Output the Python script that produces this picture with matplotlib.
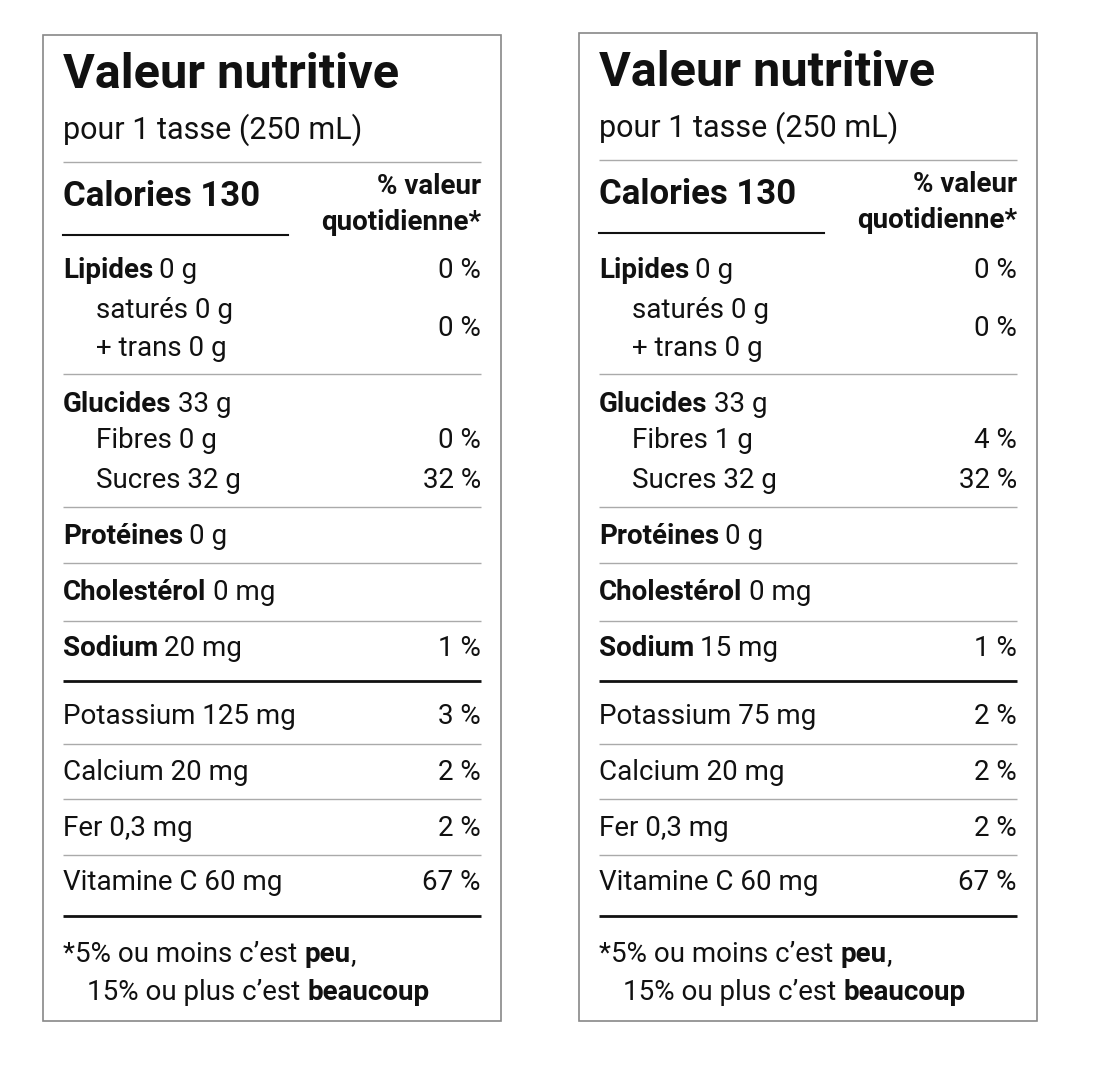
import matplotlib
matplotlib.use("Agg")
import matplotlib.pyplot as plt
from matplotlib import font_manager as fm

names = [f.name for f in fm.fontManager.ttflist]
FAM = "Liberation Sans Narrow" if "Liberation Sans Narrow" in names else "Roboto"

title = "Valeur nutritive"
serving = "pour 1 tasse (250 mL)"
calories = [130, 130]
lipides = ["0 g", "0 g"]; lipides_dv = ["0 %", "0 %"]
satures = ["0 g", "0 g"]; trans = ["0 g", "0 g"]; sat_dv = ["0 %", "0 %"]
glucides = ["33 g", "33 g"]
fibres = ["0 g", "1 g"]; fibres_dv = ["0 %", "4 %"]
sucres = ["32 g", "32 g"]; sucres_dv = ["32 %", "32 %"]
proteines = ["0 g", "0 g"]
cholesterol = ["0 mg", "0 mg"]
sodium = ["20 mg", "15 mg"]; sodium_dv = ["1 %", "1 %"]
minerals = ["Potassium", "Calcium", "Fer", "Vitamine C"]
mineral_amt = [["125 mg", "20 mg", "0,3 mg", "60 mg"], ["75 mg", "20 mg", "0,3 mg", "60 mg"]]
mineral_dv = [["3 %", "2 %", "2 %", "67 %"], ["2 %", "2 %", "2 %", "67 %"]]

W, H = 1100, 1068
fig = plt.figure(figsize=(W/100, H/100), dpi=100)
ax = fig.add_axes([0, 0, 1, 1])
ax.set_xlim(0, W); ax.set_ylim(H, 0); ax.axis("off")
fig.canvas.draw()
R = fig.canvas.get_renderer()
FS = 20

def txt(x, y, s, bold=False, size=FS, ha="left"):
    t = ax.text(x, y, s, fontsize=size, fontweight="bold" if bold else "normal",
                family=FAM, ha=ha, va="center", color="#111")
    return t.get_window_extent(R).width

def measure(s, bold=False, size=FS):
    t = ax.text(100, 100, s, fontsize=size, fontweight="bold" if bold else "normal", family=FAM)
    w = t.get_window_extent(R).width
    t.remove()
    return w

def mixed(x, y, b, n, size=FS):
    w = txt(x, y, b, True, size)
    sp = measure(" ", False, size)
    txt(x + w + sp*0.9, y, n, False, size)

def hline(x0, x1, y, lw=1):
    ax.plot([x0, x1], [y, y], color="#111" if lw > 1 else "#aaa", lw=lw, solid_capstyle="butt")

for i, (bx, dy) in enumerate([(0, 0), (536, -2)]):
    L, Rr = 63 + bx, 481 + bx
    ax.add_patch(plt.Rectangle((43 + bx, 35 + dy), 458, 986 - dy, fill=False, ec="#888", lw=1.2))
    txt(L, 75 + dy, title, True, 35)
    txt(L, 130 + dy, serving, False, 22)
    hline(L, Rr, 162 + dy)
    txt(L, 196 + dy, f"Calories {calories[i]}", True, 25)
    ax.plot([L, L + 225], [235 + dy, 235 + dy], color="#111", lw=1.5)
    txt(Rr, 187 + dy, "% valeur", True, FS, "right")
    txt(Rr, 223 + dy, "quotidienne*", True, FS, "right")
    mixed(L, 270, "Lipides", lipides[i]); txt(Rr, 270, lipides_dv[i], ha="right")
    txt(L + 33, 310, f"saturés {satures[i]}"); txt(L + 33, 348, f"+ trans {trans[i]}")
    txt(Rr, 329, sat_dv[i], ha="right")
    hline(L, Rr, 374)
    mixed(L, 405, "Glucides", glucides[i])
    txt(L + 33, 441, f"Fibres {fibres[i]}"); txt(Rr, 441, fibres_dv[i], ha="right")
    txt(L + 33, 481, f"Sucres {sucres[i]}"); txt(Rr, 481, sucres_dv[i], ha="right")
    hline(L, Rr, 507)
    mixed(L, 537, "Protéines", proteines[i]); hline(L, Rr, 563)
    mixed(L, 593, "Cholestérol", cholesterol[i]); hline(L, Rr, 621)
    mixed(L, 648, "Sodium", sodium[i]); txt(Rr, 648, sodium_dv[i], ha="right")
    hline(L, Rr, 681, 2)
    ys = [717, 772, 828, 883]
    for k, (m, y) in enumerate(zip(minerals, ys)):
        txt(L, y, f"{m} {mineral_amt[i][k]}"); txt(Rr, y, mineral_dv[i][k], ha="right")
        if k < 3:
            hline(L, Rr, y + 27)
    hline(L, Rr, 916, 2)
    w = txt(L, 955, "*5% ou moins c’est ")
    w2 = txt(L + w, 955, "peu", True); txt(L + w + w2, 955, ",")
    w = txt(L + 24, 993, "15% ou plus c’est ")
    txt(L + 24 + w, 993, "beaucoup", True)

fig.savefig("out.png", dpi=100, facecolor="white")
